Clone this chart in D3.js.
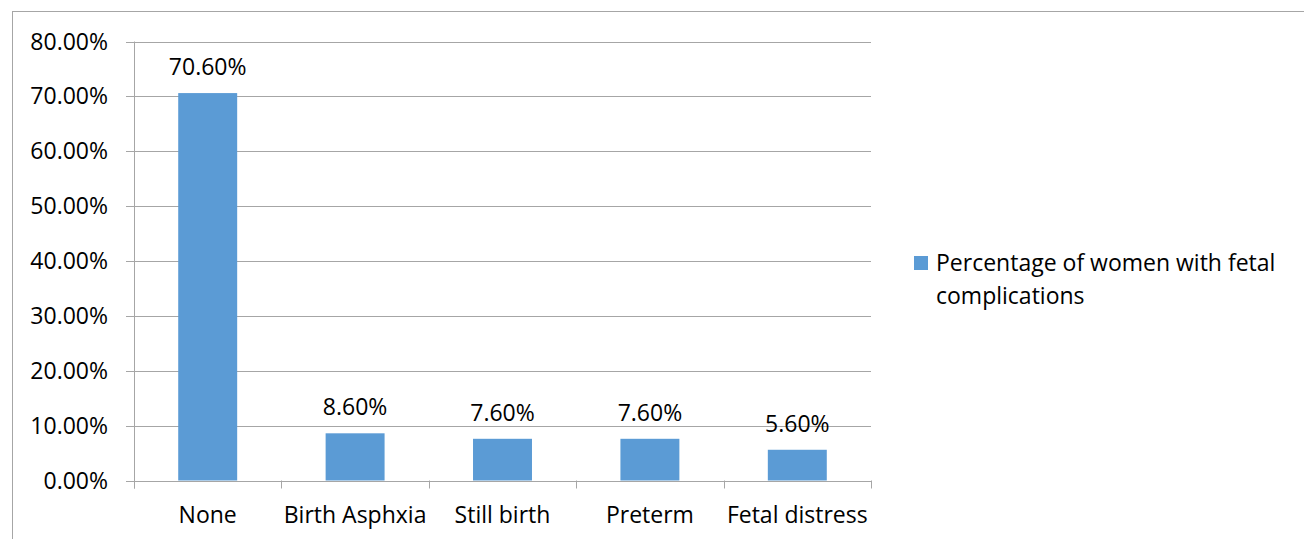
<!DOCTYPE html>
<html>
<head>
<meta charset="utf-8">
<script src="https://cdn.jsdelivr.net/npm/d3@7"></script>
<style>
  body { margin: 0; background: #fff; }
  text { font-family: "Open Sans", "Liberation Sans", sans-serif; fill: #000; font-size: 23px; }
</style>
</head>
<body>
<div id="chart"></div>
<script>
var categories = ["None", "Birth Asphxia", "Still birth", "Preterm", "Fetal distress"];
var values = [70.6, 8.6, 7.6, 7.6, 5.6];
var yTicks = [0, 10, 20, 30, 40, 50, 60, 70, 80];
var seriesName = ["Percentage of women with fetal", "complications"];

var width = 1304, height = 539;
var margin = { left: 134, right: 433, top: 41.5, bottom: 58.5 };
var color = "#5b9bd5";
var grid = "#a6a6a6";

var svg = d3.select("#chart").append("svg")
    .attr("width", width)
    .attr("height", height);

// outer chart frame
svg.append("rect")
    .attr("x", 12.5).attr("y", 11.5)
    .attr("width", width).attr("height", height)
    .attr("fill", "none")
    .attr("stroke", grid);

var x = d3.scaleBand()
    .domain(categories)
    .range([margin.left, width - margin.right])
    .paddingInner(0.6)
    .paddingOuter(0.3);

var xOuter = d3.scaleBand()
    .domain(categories)
    .range([margin.left, width - margin.right]);

var y = d3.scaleLinear()
    .domain([0, 80])
    .range([height - margin.bottom, margin.top]);

// gridlines
svg.append("g").selectAll("line")
    .data(yTicks)
  .enter().append("line")
    .attr("x1", margin.left - 8)
    .attr("x2", width - margin.right)
    .attr("y1", function(d) { return Math.round(y(d)) + 0.5; })
    .attr("y2", function(d) { return Math.round(y(d)) + 0.5; })
    .attr("stroke", grid);

// y axis labels
svg.append("g").selectAll("text")
    .data(yTicks)
  .enter().append("text")
    .attr("x", margin.left - 26)
    .attr("y", function(d) { return y(d); })
    .attr("dy", "0.35em")
    .attr("text-anchor", "end")
    .text(function(d) { return d.toFixed(2) + "%"; });

// y axis line
svg.append("line")
    .attr("x1", margin.left + 0.5).attr("x2", margin.left + 0.5)
    .attr("y1", y(80)).attr("y2", y(0) + 8)
    .attr("stroke", grid);

// x ticks
var tickXs = categories.map(function(c) { return xOuter(c); }).concat([width - margin.right]);
svg.append("g").selectAll("line")
    .data(tickXs)
  .enter().append("line")
    .attr("x1", function(d) { return Math.round(d) + 0.5; })
    .attr("x2", function(d) { return Math.round(d) + 0.5; })
    .attr("y1", y(0)).attr("y2", y(0) + 8)
    .attr("stroke", grid);

// bars
svg.append("g").selectAll("rect")
    .data(values)
  .enter().append("rect")
    .attr("x", function(d, i) { return x(categories[i]); })
    .attr("y", function(d) { return y(d); })
    .attr("width", x.bandwidth())
    .attr("height", function(d) { return y(0) - y(d); })
    .attr("fill", color);

// data labels
svg.append("g").selectAll("text")
    .data(values)
  .enter().append("text")
    .attr("x", function(d, i) { return x(categories[i]) + x.bandwidth() / 2; })
    .attr("y", function(d) { return y(d) - 18; })
    .attr("text-anchor", "middle")
    .text(function(d) { return d.toFixed(2) + "%"; });

// category labels
svg.append("g").selectAll("text")
    .data(categories)
  .enter().append("text")
    .attr("x", function(d) { return xOuter(d) + xOuter.bandwidth() / 2; })
    .attr("y", 523)
    .attr("text-anchor", "middle")
    .text(function(d) { return d; });

// legend
var legend = svg.append("g");
legend.append("rect")
    .attr("x", 914).attr("y", 256)
    .attr("width", 14).attr("height", 14)
    .attr("fill", color);
legend.selectAll("text")
    .data(seriesName)
  .enter().append("text")
    .attr("x", 936)
    .attr("y", function(d, i) { return 271 + i * 33; })
    .text(function(d) { return d; });
</script>
</body>
</html>
